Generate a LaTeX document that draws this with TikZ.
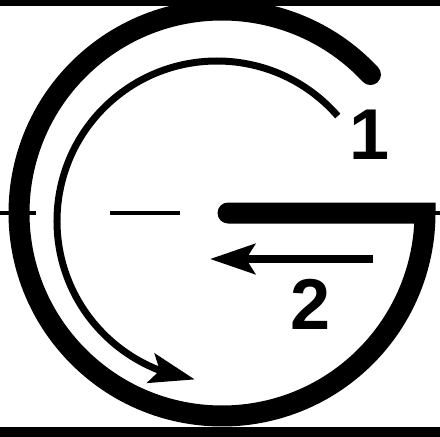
\documentclass[tikz,border=0pt]{standalone}
\usepackage{fontspec}
\setmainfont{Liberation Sans}
\usepackage{tikz}
\usetikzlibrary{arrows.meta, bending}

\begin{document}
\begin{tikzpicture}[x=1pt, y=1pt,
    gline/.style={line width=21pt, line cap=round, line join=miter},
    turnarrow/.style={-{Stealth[length=45pt, width=30pt, inset=9pt]}},
    axisline/.style={line width=4.5pt},
    numlabel/.style={font=\fontsize{72}{72}\selectfont\bfseries, inner sep=0pt}]
  \useasboundingbox (0,0) rectangle (440,-437);
  % frame edges
  \fill (0,0) rectangle (440,-6);
  \fill (0,-427) rectangle (440,-437);
  % centre line
  \draw[axisline] (0,-213) -- (36,-213);
  \draw[axisline] (110,-213) -- (180,-213);
  \draw[axisline] (434,-213) -- (440,-213);
  % the G
  \coordinate (gcentre) at (222,-213);
  \coordinate (barend) at (228,-213);
  \draw[gline] (gcentre) ++(43:203pt) arc[start angle=43, end angle=360, radius=203pt] -- (barend);
  % turning arrow 1
  \coordinate (turncentre) at (217,-221);
  \draw[turnarrow, line width=7pt] (turncentre) ++(41:160pt) arc[start angle=41, end angle=262, radius=160pt];
  % straight arrow 2
  \coordinate (pushtail) at (373,-259);
  \coordinate (pushtip) at (210,-259);
  \draw[turnarrow, line width=8pt] (pushtail) -- (pushtip);
  % labels
  \node[numlabel] (one) at (370,-135) {1};
  \node[numlabel] (two) at (311,-304) {2};
\end{tikzpicture}
\end{document}
